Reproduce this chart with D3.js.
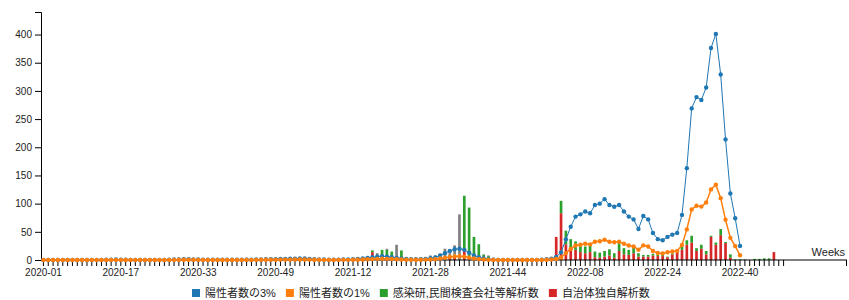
<!DOCTYPE html>
<html>
<head>
<meta charset="utf-8">
<script src="https://cdn.jsdelivr.net/npm/d3@7"></script>
<style>
  body { margin: 0; background: #fff; }
  svg { display: block; font-family: "Liberation Sans", "Noto Sans CJK JP", sans-serif; }
</style>
</head>
<body>
<svg id="chart" width="849" height="300"></svg>
<script>
// ISO weeks shown on the x axis
const years = [2020, 2021, 2022];
const weeksInYear = [53, 52, 49];

const seriesNames = ["陽性者数の3%", "陽性者数の1%", "感染研,民間検査会社等解析数", "自治体独自解析数"];
const colors = ["#1f77b4", "#ff7f0e", "#2ca02c", "#d62728"];
const otherColor = "#7f7f7f";

// 自治体独自解析数 (red bars)
const localCounts = [
  0,0,0,0,0,0,0,0,0,0,0,0,0,0,0,0,0,0,0,0,0,0,0,0,0,0,0,0,0,0,0,0,0,0,0,0,0,0,0,0,0,0,0,0,0,0,0,0,0,0,0,0,0,
  0,0,0,0,0,0,0,0,0,0,0,0, 1,1,2,14,0,4,2,3,0,2,0,0, 0,1,1,2,1,2,2,4,6,0,16,4,2,1,0,0, 0,0,0,0,0,0,0,0,0,0,0,0,
  0,41,83,28,22,18,14,12,14,5,4,6, 8,4,16,10,9,12,6,6,6,8,7,7, 5,10,15,18,27,31,16,20,10,41,27,44, 30,4,0,0,0,0,0,0,0,0,14,0,0
];
// 感染研,民間検査会社等解析数 (green bars)
const labCounts = [
  0,0,0,0,0,0,0,0,0,0,0,0,0,0,0,0,0,0,0,0,0,0,0,0,0,0,0,0,0,0,0,0,0,0,0,0,0,0,0,0,0,0,0,0,0,0,0,0,0,0,0,0,0,
  0,0,0,0,0,0,0,0,0,0,0,0, 0,2,3,3,0,14,16,12,0,15,3,1, 2,2,3,4,5,5,3,0,4,0,98,89,39,27,9,7, 3,1,0,0,0,0,0,0,0,0,0,0,
  0,0,22,24,15,15,14,12,12,10,9,10, 11,8,14,11,9,10,6,3,3,3,2,2, 1,2,4,6,8,12,5,7,6,2,4,11, 2,6,1,1,1,0,2,2,3,3,0,0,0
];
// unlabelled grey bars
const otherCounts = [
  0,0,0,0,0,0,0,0,0,0,0,0,0,0,0,0,0,0,0,0,0,0,0,0,0,0,0,0,0,0,0,0,0,0,0,0,0,0,0,0, 0,3,4,3,2,0,0,2,3,3,4,3,2,
  3,2,3,2,1,1,1,2,2,2,1,1, 2,2,1,0,12,0,2,0,27,0,1,1, 1,1,1,2,2,4,15,8,16,81,0,0,0,0,1,1, 1,0,0,0,0,0,0,0,0,0,0,0,
  0,0,0,0,0,0,0,0,0,0,0,0,0,0,0,0,0,0,0,0,0,0,0,0,0,0,0,0,0,0,0,0,0,0,0,0,0,0,0,0,0,0,0,0,0,0,0,0,0
];
// 陽性者数の3% (blue line)
const pos3 = [
  0,0,0,0,0,0,0,0,0,0,0,0, 0.2,0.4,0.6,0.8,0.6,0.4,0.2,0.1, 0,0,0,0,0.1,0.2,0.4, 0.8,1,1.2,1.2,1,0.8,0.6,0.5,0.4, 0.4,0.4,0.4,0.4,0.4,0.5,0.5,0.6,0.8, 1,1.2,1.5,1.6,1.8,2,2.1,2.4,
  2.8,2.6,2,1.4,1,0.8,0.6,0.6, 0.7,0.8,0.9,1.2,1.8,2.6,3.6,4.8,6,6.6,6,5,3.8,2.6,1.8, 1.4,1.2,1.4,2,3, 4.5,8,12,16,19,20,18,13,8,4.8,2.7,1.4, 0.6,0.3,0.15,0.15,0.15,0.15,0.15,0.15,0.3,0.3,0.6,1.2,
  2.4,5.4,13.6,36.6,59,77,81,86,83,97.5,100,108, 97.5,94.5,97.5,86,77,72,55,78,72,48,37,35, 41,45,48,80,163,269,289,284,306,376,401,329, 214,118,74,25
];
// 陽性者数の1% (orange line)
const pos1 = [
  0,0,0,0,0,0,0,0,0,0,0,0, 0.07,0.13,0.2,0.27,0.2,0.13,0.07,0.03, 0,0,0,0,0.03,0.07,0.13, 0.27,0.33,0.4,0.4,0.33,0.27,0.2,0.17,0.13, 0.13,0.13,0.13,0.13,0.13,0.17,0.17,0.2,0.27, 0.33,0.4,0.5,0.53,0.6,0.67,0.7,0.8,
  0.93,0.87,0.67,0.47,0.33,0.27,0.2,0.2, 0.23,0.27,0.3,0.4,0.6,0.87,1.2,1.6,2,2.2,2,1.67,1.27,0.87,0.6, 0.47,0.4,0.47,0.67,1, 1.5,2.7,4,5.3,6.3,6.7,6,4.3,2.7,1.6,0.9,0.47, 0.2,0.1,0.05,0.05,0.05,0.05,0.05,0.05,0.1,0.1,0.2,0.4,
  0.8,1.8,4.5,12.2,19.7,25.7,27,28.7,27.7,32.5,33.3,36, 32.5,31.5,32.5,28.7,25.7,24,18.3,26,24,16,12.3,11.7, 13.7,15,16,26.7,54.3,89.7,96.3,94.7,102,125.3,133.7,109.7, 71.3,39.3,24.7,8.3
];

const weeks = years.flatMap((yr, i) =>
  d3.range(1, weeksInYear[i] + 1).map(w => `${yr}-${String(w).padStart(2, "0")}`));

const svg = d3.select("#chart");
const x0 = 41, x1 = 786, axisEnd = 847;
const yTop = 12, yBottom = 260;

const x = d3.scaleBand()
  .domain(weeks)
  .range([x0, x1])
  .paddingInner(0.45)
  .paddingOuter(0.225);

const y = d3.scaleLinear()
  .domain([0, 440])
  .range([yBottom, yTop]);

// stacked bars
const rows = weeks.map((w, i) => ({
  week: w,
  local: localCounts[i],
  lab: labCounts[i],
  other: otherCounts[i]
}));
const stack = d3.stack().keys(["local", "lab", "other"])(rows);
const barColor = { local: colors[3], lab: colors[2], other: otherColor };

svg.append("g")
  .selectAll("g")
  .data(stack).enter()
  .append("g")
  .attr("fill", s => barColor[s.key])
  .selectAll("rect")
  .data(s => s.filter(d => d[1] > d[0])).enter()
  .append("rect")
  .attr("x", d => x(d.data.week))
  .attr("width", x.bandwidth())
  .attr("y", d => y(d[1]))
  .attr("height", d => y(d[0]) - y(d[1]));

// axes
svg.append("g")
  .attr("transform", `translate(${x0},0)`)
  .call(d3.axisLeft(y))
  .call(g => g.selectAll("text").attr("fill", "#222"));

const xAxis = svg.append("g")
  .attr("transform", `translate(0,${yBottom})`)
  .call(d3.axisBottom(x)
    .tickSizeOuter(0)
    .tickFormat((d, i) => (i % 16 === 0 ? d : "")));
xAxis.select(".domain").remove();
xAxis.selectAll("text").attr("fill", "#222");
xAxis.append("line")
  .attr("x1", x0).attr("x2", axisEnd)
  .attr("stroke", "#000");
xAxis.append("line")
  .attr("x1", axisEnd - 0.5).attr("x2", axisEnd - 0.5)
  .attr("y1", 0).attr("y2", 6)
  .attr("stroke", "#000");

svg.append("text")
  .attr("x", 845).attr("y", 256)
  .attr("text-anchor", "end")
  .attr("font-size", 11)
  .attr("fill", "#222")
  .text("Weeks");

// lines with dots
const cx = i => x(weeks[i]) + x.bandwidth() / 2;
const lineSeries = [
  { values: pos3, color: colors[0], width: 1 },
  { values: pos1, color: colors[1], width: 1.5 }
];
lineSeries.forEach(s => {
  const g = svg.append("g");
  g.append("path")
    .datum(s.values)
    .attr("fill", "none")
    .attr("stroke", s.color)
    .attr("stroke-width", s.width)
    .attr("d", d3.line().x((d, i) => cx(i)).y(d => y(d)));
  g.selectAll("circle")
    .data(s.values).enter()
    .append("circle")
    .attr("cx", (d, i) => cx(i))
    .attr("cy", d => y(d))
    .attr("r", 2.2)
    .attr("fill", s.color);
});

// legend
const legend = svg.append("g").attr("font-size", 11);
const items = legend.selectAll("g")
  .data(seriesNames).enter()
  .append("g");
items.append("rect")
  .attr("width", 8).attr("height", 8)
  .attr("y", -4)
  .attr("fill", (d, i) => colors[i]);
items.append("text")
  .attr("x", 13)
  .attr("dy", "0.35em")
  .attr("fill", "#222")
  .text(d => d);

let offset = 0;
const offsets = [];
items.each(function () {
  offsets.push(offset);
  offset += 13 + this.querySelector("text").getComputedTextLength() + 10;
});
const legendWidth = offset - 10;
items.attr("transform", (d, i) => `translate(${offsets[i]},0)`);
legend.attr("transform", `translate(${Math.round(421 - legendWidth / 2)},293)`);
</script>
</body>
</html>
